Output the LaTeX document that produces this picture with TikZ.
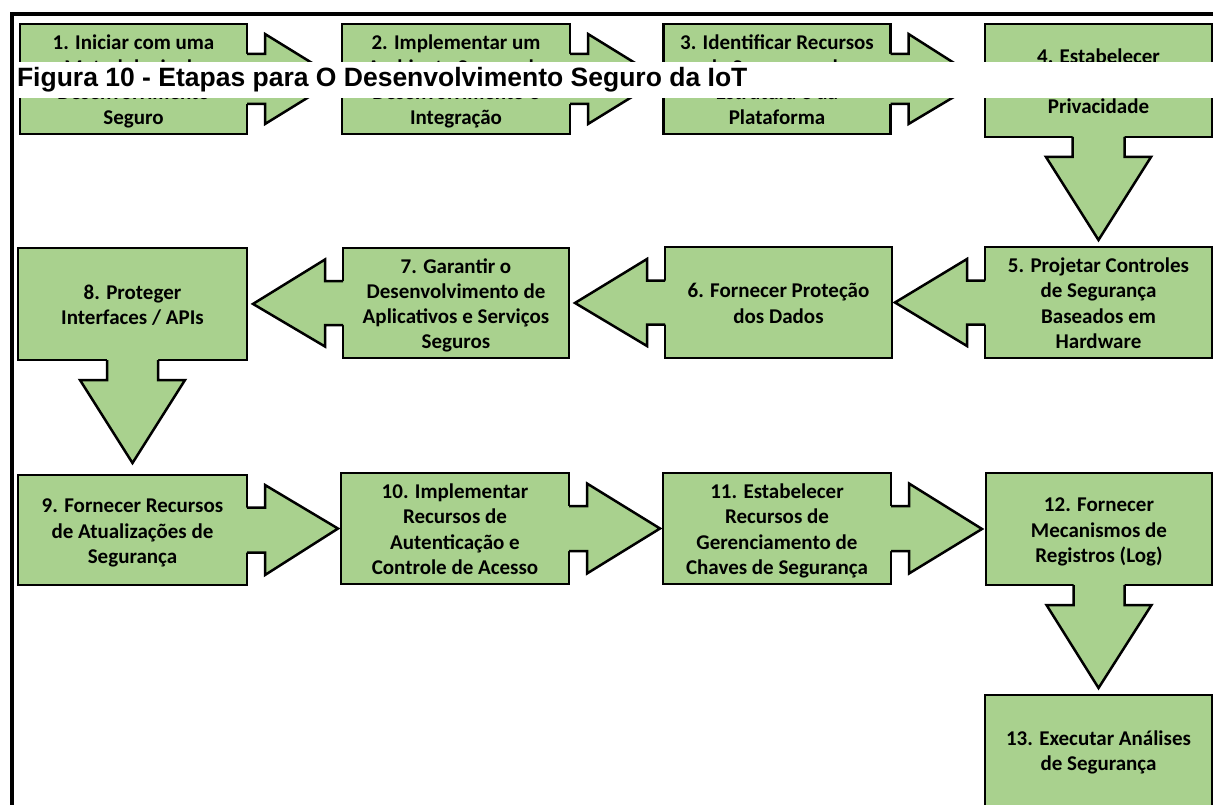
\documentclass[tikz,border=0pt]{standalone}
\usepackage{fontspec}
\setmainfont{Carlito}
\newfontfamily\titlefont{Liberation Sans}
\usetikzlibrary{calc}
\definecolor{stepgreen}{RGB}{169,209,142}

\tikzset{
  steptext/.style={align=center, text=black, inner sep=0pt, outer sep=0pt,
    font=\bfseries\fontsize{21}{25.2}\selectfont, text depth=0pt},
  stepbox/.style={steptext, draw=black, fill=stepgreen, line width=2.5pt},
  stepline/.style={draw=black, line width=2.5pt, line join=miter},
  % height of a text block above its last baseline, so its lines sit centred in the box
  twolines/.style={text height=41.2pt},
  threelines/.style={text height=66.4pt},
  fourlines/.style={text height=91.6pt},
}

% block arrow from the east side of #1 towards #2; #3 shaft half height, #4 head half height
\newcommand\stepright[4]{%
  \fill[stepgreen] ($(#1.east)+(-2,-#3)$) -- ($(#1.east)+(18,-#3)$) -- ($(#1.east)+(18,-#4)$)
    -- ($(#1.east)!91pt!(#2.west)$) -- ($(#1.east)+(18,#4)$) -- ($(#1.east)+(18,#3)$)
    -- ($(#1.east)+(-2,#3)$) -- cycle;
  \draw[stepline] ($(#1.east)+(0,-#3)$) -- ($(#1.east)+(18,-#3)$) -- ($(#1.east)+(18,-#4)$)
    -- ($(#1.east)!91pt!(#2.west)$) -- ($(#1.east)+(18,#4)$) -- ($(#1.east)+(18,#3)$)
    -- ($(#1.east)+(0,#3)$);
}
% block arrow from the west side of #1 towards #2
\newcommand\stepleft[4]{%
  \fill[stepgreen] ($(#1.west)+(2,-#3)$) -- ($(#1.west)+(-18,-#3)$) -- ($(#1.west)+(-18,-#4)$)
    -- ($(#1.west)!90pt!(#2.east)$) -- ($(#1.west)+(-18,#4)$) -- ($(#1.west)+(-18,#3)$)
    -- ($(#1.west)+(2,#3)$) -- cycle;
  \draw[stepline] ($(#1.west)+(0,-#3)$) -- ($(#1.west)+(-18,-#3)$) -- ($(#1.west)+(-18,-#4)$)
    -- ($(#1.west)!90pt!(#2.east)$) -- ($(#1.west)+(-18,#4)$) -- ($(#1.west)+(-18,#3)$)
    -- ($(#1.west)+(0,#3)$);
}
% block arrow from the south side of #1 towards #2; #3 shaft half width, #4 head half width
\newcommand\stepdown[4]{%
  \fill[stepgreen] ($(#1.south)+(-#3,-2)$) -- ($(#1.south)+(-#3,20)$) -- ($(#1.south)+(-#4,20)$)
    -- ($(#1.south)!103pt!(#2.north)$) -- ($(#1.south)+(#4,20)$) -- ($(#1.south)+(#3,20)$)
    -- ($(#1.south)+(#3,-2)$) -- cycle;
  \draw[stepline] ($(#1.south)+(-#3,0)$) -- ($(#1.south)+(-#3,20)$) -- ($(#1.south)+(-#4,20)$)
    -- ($(#1.south)!103pt!(#2.north)$) -- ($(#1.south)+(#4,20)$) -- ($(#1.south)+(#3,20)$)
    -- ($(#1.south)+(#3,0)$);
}

\begin{document}
\begin{tikzpicture}[x=1pt,y=-1pt]
\useasboundingbox (0,0) rectangle (1213,805);

% outer frame
\draw[line width=4pt, line join=miter] (12,830) -- (12,14.5) -- (1240,14.5);

% row 1
\node[stepbox, fourlines, minimum width=227pt, minimum height=110pt] (b1) at (133.5,79)
  {1. Iniciar com uma\\Metodologia de\\Desenvolvimento\\Seguro};
\node[stepbox, fourlines, minimum width=228pt, minimum height=110pt] (b2) at (456,79)
  {2. Implementar um\\Ambiente Seguro de\\Desenvolvimento e\\Integração};
\node[stepbox, fourlines, minimum width=227pt, minimum height=110pt] (b3) at (777,79)
  {3. Identificar Recursos\\de Segurança da\\Estrutura e da\\Plataforma};
\node[stepbox, threelines, minimum width=227pt, minimum height=113pt] (b4) at (1098.5,80.5)
  {4. Estabelecer\\Proteções de\\Privacidade};

% row 2
\node[stepbox, fourlines, minimum width=227pt, minimum height=111pt] (b5) at (1098.5,302.5)
  {5. Projetar Controles\\de Segurança\\Baseados em\\Hardware};
\node[stepbox, twolines, minimum width=227pt, minimum height=111pt] (b6) at (778.5,302.5)
  {6. Fornecer Proteção\\dos Dados};
\node[stepbox, fourlines, minimum width=226pt, minimum height=110pt] (b7) at (456,303)
  {7. Garantir o\\Desenvolvimento de\\Aplicativos e Serviços\\Seguros};
\node[stepbox, twolines, minimum width=229pt, minimum height=112pt] (b8) at (132.5,304)
  {8. Proteger\\Interfaces / APIs};

% row 3
\node[stepbox, threelines, minimum width=229pt, minimum height=110pt] (b9) at (132.5,530)
  {9. Fornecer Recursos\\de Atualizações de\\Segurança};
\node[stepbox, fourlines, minimum width=228pt, minimum height=111pt] (b10) at (455,528.5)
  {10. Implementar\\Recursos de\\Autenticação e\\Controle de Acesso};
\node[stepbox, fourlines, minimum width=228pt, minimum height=111pt] (b11) at (777,528.5)
  {11. Estabelecer\\Recursos de\\Gerenciamento de\\Chaves de Segurança};
\node[stepbox, threelines, minimum width=226pt, minimum height=112pt] (b12) at (1099,529)
  {12. Fornecer\\Mecanismos de\\Registros (Log)};

% last step runs past the lower edge
\node[stepbox, anchor=north, minimum width=227pt, minimum height=125pt] (b13) at (1098.5,695) {};
\node[steptext, twolines] (b13text) at (1098.5,750) {13. Executar Análises\\de Segurança};

% flow arrows
\stepright{b1}{b2}{25}{45}
\stepright{b2}{b3}{25}{45}
\stepright{b3}{b4}{25}{45}
\stepdown{b4}{b5}{26}{52.5}
\stepleft{b5}{b6}{22}{43.5}
\stepleft{b6}{b7}{22}{43.5}
\stepleft{b7}{b8}{22}{43.5}
\stepdown{b8}{b9}{25.5}{52.5}
\stepright{b9}{b10}{22.5}{45}
\stepright{b10}{b11}{22.5}{45}
\stepright{b11}{b12}{22.5}{45}
\stepdown{b12}{b13}{25.5}{52.5}

% caption band
\fill[white] (15,62) rectangle (1240,98.5);
\node[anchor=base west, inner sep=0pt, outer sep=0pt, text=black,
  font=\titlefont\bfseries\fontsize{26.5}{30}\selectfont] (title) at (17,87)
  {Figura 10 - Etapas para O Desenvolvimento Seguro da IoT};
\end{tikzpicture}
\end{document}
